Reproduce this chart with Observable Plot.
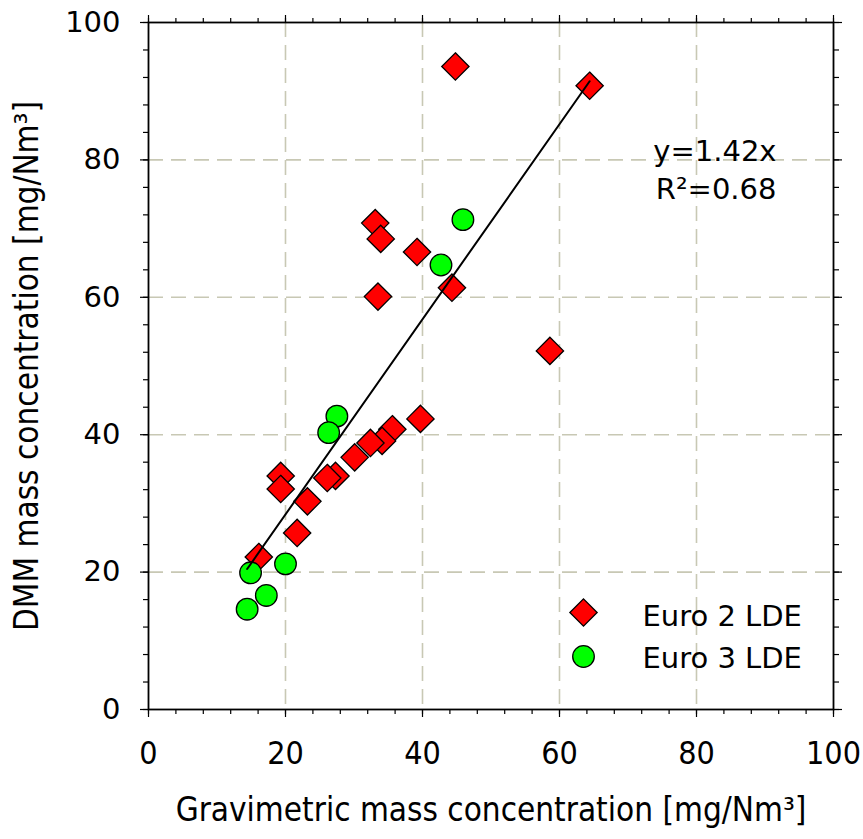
<!DOCTYPE html>
<html>
<head>
<meta charset="utf-8">
<script src="https://cdn.jsdelivr.net/npm/d3@7"></script>
<script src="https://cdn.jsdelivr.net/npm/@observablehq/plot@0.6"></script>
<style>
  html, body { margin: 0; padding: 0; background: #fff; }
  #chart svg { display: block; }
</style>
</head>
<body>
<div id="chart"></div>
<script>
// DMM vs gravimetric PM mass, two engine classes
const seriesNames = ["Euro 2 LDE", "Euro 3 LDE"];

const euro2X = [44.8, 64.4, 33.1, 33.9, 39.2, 33.5, 44.3, 58.6, 39.7, 35.6, 34.1, 32.4, 30.1, 27.3, 26.1, 19.3, 19.3, 23.2, 21.7, 16.1];
const euro2Y = [93.6, 90.8, 70.8, 68.5, 66.6, 60.1, 61.4, 52.2, 42.3, 40.8, 39.1, 38.8, 36.7, 34.0, 33.7, 34.0, 32.1, 30.3, 25.7, 22.2];

const euro3X = [45.9, 42.7, 27.5, 26.3, 14.9, 20.0, 17.2, 14.4];
const euro3Y = [71.3, 64.7, 42.7, 40.3, 19.9, 21.2, 16.6, 14.6];

// Linear fit through the origin
const fitSlope = 1.42;
const fitR2 = 0.68;

const majorTicks = [0, 20, 40, 60, 80, 100];
const gridTicks = [20, 40, 60, 80];
const minorTicks = d3.range(0, 101, 4);

const euro2 = euro2X.map((x, i) => ({x, y: euro2Y[i]}));
const euro3 = euro3X.map((x, i) => ({x, y: euro3Y[i]}));
const allX = euro2X.concat(euro3X);
const fitLine = [d3.min(allX), d3.max(allX)].map(x => ({x, y: fitSlope * x}));

// Use the condensed DejaVu face for axis text when it is installed
function hasCondensed() {
  const ctx = document.createElement("canvas").getContext("2d");
  const s = "Gravimetric mass concentration";
  ctx.font = "30px 'DejaVu Sans'";
  const wide = ctx.measureText(s).width;
  ctx.font = "30px 'DejaVu Sans Condensed', 'DejaVu Sans'";
  const narrow = ctx.measureText(s).width;
  return narrow < wide * 0.97;
}
const condensed = hasCondensed();
const font = "DejaVu Sans, Verdana, sans-serif";
const axisFont = condensed ? "'DejaVu Sans Condensed', 'DejaVu Sans', sans-serif" : font;
const titleSize = condensed ? 33 : 30;
const xTickSize = condensed ? 32 : 28;
const yTickSize = condensed ? 29 : 26;

const gridColor = "#c8c8b4";
const blank = () => "";
const markerStroke = 1.3;

const chart = Plot.plot({
  width: 863,
  height: 839,
  marginLeft: 148,
  marginRight: 30,
  marginTop: 22,
  marginBottom: 130,
  style: {fontFamily: font, fontSize: "24px", color: "#000", background: "#fff"},
  x: {domain: [0, 100]},
  y: {domain: [0, 100]},
  marks: [
    // dashed grid
    Plot.gridX(gridTicks, {stroke: gridColor, strokeOpacity: 1, strokeWidth: 1.6, strokeDasharray: "15,8"}),
    Plot.gridY(gridTicks, {stroke: gridColor, strokeOpacity: 1, strokeWidth: 1.6, strokeDasharray: "15,8"}),
    // minor ticks on all four sides
    Plot.axisX(minorTicks, {anchor: "bottom", tickSize: 5, tickFormat: blank, label: null, strokeWidth: 1.2}),
    Plot.axisX(minorTicks, {anchor: "top", tickSize: 5, tickFormat: blank, label: null, strokeWidth: 1.2}),
    Plot.axisY(minorTicks, {anchor: "left", tickSize: 5, tickFormat: blank, label: null, strokeWidth: 1.2}),
    Plot.axisY(minorTicks, {anchor: "right", tickSize: 5, tickFormat: blank, label: null, strokeWidth: 1.2}),
    // major ticks and labels
    Plot.axisX(majorTicks, {anchor: "bottom", tickSize: 8, tickPadding: 24, label: null, strokeWidth: 1.2,
      fontSize: xTickSize, fontFamily: axisFont}),
    Plot.axisX(majorTicks, {anchor: "top", tickSize: 8, tickFormat: blank, label: null, strokeWidth: 1.2}),
    Plot.axisY(majorTicks, {anchor: "left", tickSize: 8, tickPadding: 20, label: null, strokeWidth: 1.2,
      fontSize: yTickSize, fontFamily: font}),
    Plot.axisY(majorTicks, {anchor: "right", tickSize: 8, tickFormat: blank, label: null, strokeWidth: 1.2}),
    Plot.frame({stroke: "#000", strokeWidth: 1.8}),
    // data
    Plot.dot(euro2, {x: "x", y: "y", symbol: "diamond2", r: 12.3, fill: "#ff0000", stroke: "#000", strokeWidth: markerStroke}),
    Plot.dot(euro3, {x: "x", y: "y", symbol: "circle", r: 10.8, fill: "#00ff00", stroke: "#000", strokeWidth: markerStroke}),
    Plot.line(fitLine, {x: "x", y: "y", stroke: "#000", strokeWidth: 2}),
    // fit annotation
    Plot.text([`y=${fitSlope}x`], {frameAnchor: "top-right", dx: -57, dy: 138, text: d => d,
      textAnchor: "end", lineAnchor: "bottom", fontSize: 29}),
    Plot.text([`R²=${fitR2}`], {frameAnchor: "top-right", dx: -57, dy: 176, text: d => d,
      textAnchor: "end", lineAnchor: "bottom", fontSize: 29}),
    // in-plot legend
    Plot.dot(seriesNames.slice(0, 1), {frameAnchor: "bottom-right", dx: -250, dy: -97, symbol: "diamond2", r: 12.3,
      fill: "#ff0000", stroke: "#000", strokeWidth: markerStroke}),
    Plot.dot(seriesNames.slice(1, 2), {frameAnchor: "bottom-right", dx: -250, dy: -53, symbol: "circle", r: 10.8,
      fill: "#00ff00", stroke: "#000", strokeWidth: markerStroke}),
    Plot.text(seriesNames.slice(0, 1), {frameAnchor: "bottom-right", dx: -191, dy: -84, text: d => d,
      textAnchor: "start", lineAnchor: "bottom", fontSize: 29}),
    Plot.text(seriesNames.slice(1, 2), {frameAnchor: "bottom-right", dx: -191, dy: -42, text: d => d,
      textAnchor: "start", lineAnchor: "bottom", fontSize: 29}),
    // axis titles
    Plot.text(["Gravimetric mass concentration [mg/Nm³]"], {frameAnchor: "bottom", dy: 111, text: d => d,
      textAnchor: "middle", fontSize: titleSize, fontFamily: axisFont}),
    Plot.text(["DMM mass concentration [mg/Nm³]"], {frameAnchor: "left", dx: -121, rotate: -90, text: d => d,
      textAnchor: "middle", fontSize: titleSize, fontFamily: axisFont})
  ]
});

document.getElementById("chart").appendChild(chart);
</script>
</body>
</html>
